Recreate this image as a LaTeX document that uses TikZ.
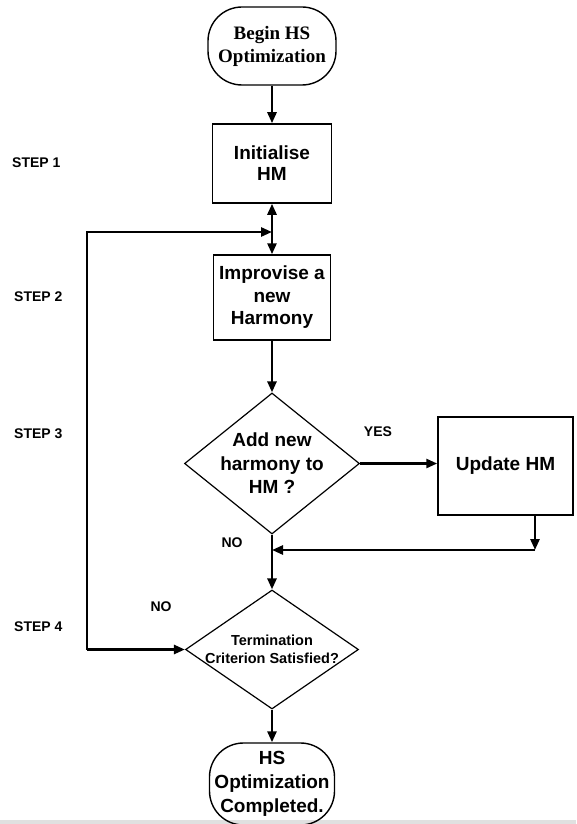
\documentclass[tikz,border=0pt]{standalone}
\usepackage{fontspec}
\setmainfont{Liberation Sans}
\newfontfamily\hsserif{Liberation Serif}
\usetikzlibrary{shapes.geometric,arrows.meta}

\begin{document}
\begin{tikzpicture}[x=1pt,y=-1pt,
  every node/.style={inner sep=0pt, align=center},
  terminal/.style={draw, line width=1.4pt, rounded corners=34pt},
  procbox/.style={draw, line width=1.5pt, rectangle},
  decision/.style={draw, line width=1.2pt, diamond},
  bigtext/.style={font=\fontsize{19}{22.5}\selectfont\bfseries},
  smalltext/.style={font=\fontsize{14}{18}\selectfont\bfseries},
  flow/.style={line width=2.6pt, -{Triangle[length=11pt,width=9pt]}},
  plainflow/.style={line width=2.6pt}
]
\useasboundingbox (0,0) rectangle (576,824);
\fill[black!12] (0,820) rectangle (576,824);

% main column
\node[terminal, minimum width=128pt, minimum height=78pt,
      font=\hsserif\fontsize{19}{23}\selectfont\bfseries] (begin) at (272,46) {Begin HS\\Optimization};
\node[procbox, minimum width=119pt, minimum height=79pt, bigtext,
      font=\fontsize{19}{21}\selectfont\bfseries] (init) at (272,163.5) {Initialise\\HM};
\coordinate (J) at (272,232);
\node[procbox, minimum width=117pt, minimum height=85pt, bigtext] (improv) at (272,297.5) {Improvise a\\new\\Harmony};
\node[decision, minimum width=175pt, minimum height=141pt] (dec1) at (272,463.5) {};
\node[bigtext, font=\fontsize{19}{23.5}\selectfont\bfseries] (dec1txt) at (272,463.5) {Add new\\harmony to\\HM ?};
\node[procbox, minimum width=135pt, minimum height=98pt, bigtext] (update) at (505.5,466) {Update HM};
\coordinate (C1) at (535,550);
\coordinate (M) at (272,550);
\node[decision, minimum width=173pt, minimum height=119pt] (dec2) at (272,649.5) {};
\node[smalltext, font=\fontsize{14.5}{18}\selectfont\bfseries] (dec2txt) at (272,649.5) {Termination\\Criterion Satisfied?};
\coordinate (C2) at (87,649.5);
\node[terminal, minimum width=125pt, minimum height=82pt, bigtext,
      font=\fontsize{19}{24}\selectfont\bfseries] (end) at (272,784) {HS\\Optimization\\Completed.};

% connectors
\draw[flow] (begin) -- (init);
\draw[flow] (J) -- (init.south);
\draw[flow] (J) -- (improv.north);
\draw[flow] (improv) -- (dec1.north);
\draw[flow] (dec1.east) -- (update.west |- dec1.east);
\draw[flow] (update.south -| C1) -- (C1);
\draw[flow] (C1) -- (M);
\draw[flow] (dec1.south) -- (dec2.north);
\draw[flow] (C2) -- (dec2.west);
\draw[flow] (C2) |- (J);
\draw[flow] (dec2.south) -- (end.north);

% branch labels
\node[smalltext] (yes) at (378,432) {YES};
\node[smalltext] (no1) at (232,543) {NO};
\node[smalltext] (no2) at (161,607) {NO};

% step labels
\node[smalltext, anchor=west] (s1) at (12,163) {STEP 1};
\node[smalltext, anchor=west] (s2) at (14,297) {STEP 2};
\node[smalltext, anchor=west] (s3) at (14,434) {STEP 3};
\node[smalltext, anchor=west] (s4) at (14,627) {STEP 4};
\end{tikzpicture}
\end{document}
